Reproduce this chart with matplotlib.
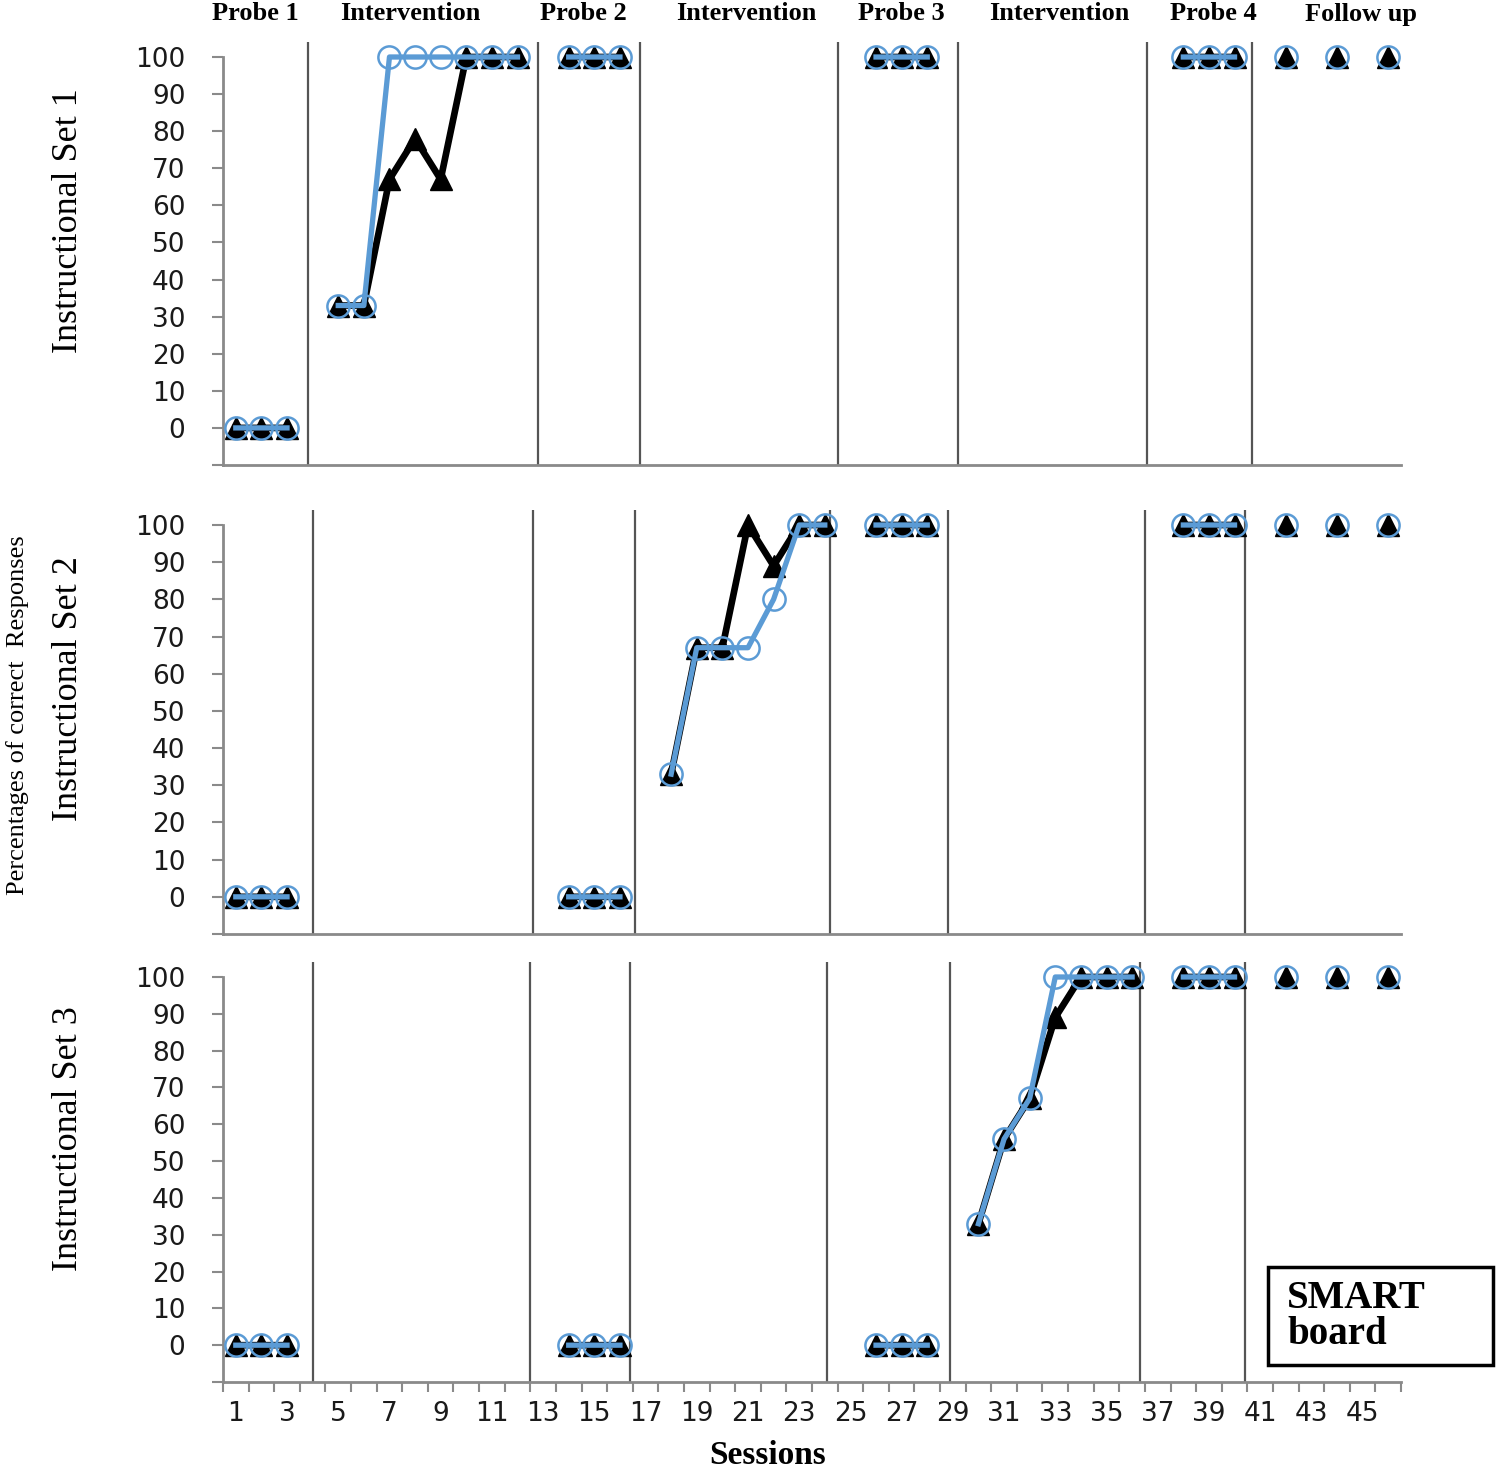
import numpy as np
import matplotlib.pyplot as plt
from matplotlib.patches import Rectangle

N = None
sessions = list(range(1, 47))

# percentages of correct responses, one value per session (None = no session in that panel)
set1_black = [0, 0, 0, N, 33, 33, 67, 78, 67, 100, 100, 100, N, 100, 100, 100] + [N] * 9 + \
             [100, 100, 100] + [N] * 9 + [100, 100, 100, N, 100, N, 100, N, 100]
set1_blue = [0, 0, 0, N, 33, 33, 100, 100, 100, 100, 100, 100, N, 100, 100, 100] + [N] * 9 + \
            [100, 100, 100] + [N] * 9 + [100, 100, 100, N, 100, N, 100, N, 100]
set2_black = [0, 0, 0] + [N] * 10 + [0, 0, 0, N, 33, 67, 67, 100, 89, 100, 100, N, 100, 100, 100] + \
             [N] * 9 + [100, 100, 100, N, 100, N, 100, N, 100]
set2_blue = [0, 0, 0] + [N] * 10 + [0, 0, 0, N, 33, 67, 67, 67, 80, 100, 100, N, 100, 100, 100] + \
            [N] * 9 + [100, 100, 100, N, 100, N, 100, N, 100]
set3_black = [0, 0, 0] + [N] * 10 + [0, 0, 0] + [N] * 9 + [0, 0, 0, N, 33, 56, 67, 89, 100, 100, 100, N] + \
             [100, 100, 100, N, 100, N, 100, N, 100]
set3_blue = [0, 0, 0] + [N] * 10 + [0, 0, 0] + [N] * 9 + [0, 0, 0, N, 33, 56, 67, 100, 100, 100, 100, N] + \
            [100, 100, 100, N, 100, N, 100, N, 100]

panel_labels = ['Instructional Set 1', 'Instructional Set 2', 'Instructional Set 3']
# phase change lines (in session units) as drawn in each panel
phase_lines = [
    [3.8, 12.8, 16.8, 24.5, 29.2, 36.6, 40.7],
    [4.0, 12.6, 16.6, 24.2, 28.8, 36.5, 40.4],
    [4.0, 12.5, 16.4, 24.1, 28.9, 36.3, 40.4],
]
phase_names = ['Probe 1', 'Intervention', 'Probe 2', 'Intervention', 'Probe 3',
               'Intervention', 'Probe 4', 'Follow up']
phase_name_x = [255, 410, 583, 746, 901, 1059, 1213, 1361]

blue = '#5B9BD5'
gray = '#8a8a8a'

fig = plt.figure(figsize=(15, 14.69), dpi=100)

# axes boxes in pixels: (top of 100, bottom of -10)
boxes = [(57, 465), (525, 934), (977, 1382)]
data = [(set1_black, set1_blue), (set2_black, set2_blue), (set3_black, set3_blue)]
left, right = 223, 1401
H = 1469.0

for i, (top, bot) in enumerate(boxes):
    ax = fig.add_axes([left / 1500, 1 - bot / H, (right - left) / 1500, (bot - top) / H])
    blk = np.array(data[i][0], dtype=float)
    blu = np.array(data[i][1], dtype=float)

    ax.plot(sessions, blk, color='black', lw=4.8, marker='^', ms=16,
            mfc='black', mec='black', zorder=3, clip_on=False)
    ax.plot(sessions, blu, color=blue, lw=3.8, marker='o', ms=16,
            mfc='none', mec=blue, mew=1.8, zorder=4, clip_on=False)

    ax.vlines(phase_lines[i], -10, 104, color='#555555', lw=1.6, zorder=1, clip_on=False)

    ax.set_xlim(0.5, 46.5)
    ax.set_ylim(-10, 100)
    ax.set_yticks(np.arange(-10, 101, 10))
    ax.set_yticklabels([''] + [str(v) for v in range(0, 101, 10)])
    ax.tick_params(axis='y', direction='out', length=8, width=1.5, color=gray,
                   pad=19, labelsize=19, labelcolor='#1a1a1a')
    for lab in ax.get_yticklabels():
        lab.set_fontfamily('DejaVu Sans')

    for s in ['top', 'right']:
        ax.spines[s].set_visible(False)
    ax.spines['left'].set_color(gray)
    ax.spines['left'].set_linewidth(2)
    ax.spines['bottom'].set_color(gray)
    ax.spines['bottom'].set_linewidth(2)

    ax.set_ylabel(panel_labels[i], family='Liberation Serif', fontsize=26, color='black')
    ax.yaxis.set_label_coords(-0.117, 0.6)

    if i < 2:
        ax.set_xticks([])
    else:
        ax.set_xticks(range(1, 46, 2))
        ax.set_xticks(np.arange(0.5, 46.6, 1), minor=True)
        ax.tick_params(axis='x', which='major', length=0, pad=14, labelsize=19,
                       labelcolor='#1a1a1a')
        ax.tick_params(axis='x', which='minor', direction='out', length=7, width=1.5, color=gray)

# phase titles
for name, x in zip(phase_names, phase_name_x):
    fig.text(x / 1500, 1 - 14 / H, name, ha='center', va='center',
             family='Liberation Serif', fontweight='bold', fontsize=19)

fig.text(18 / 1500, 1 - 715 / H, 'Percentages of correct  Responses', rotation=90,
         ha='center', va='center', family='Liberation Serif', fontsize=19)
fig.text(768 / 1500, 1 - 1455 / H, 'Sessions', ha='center', va='center',
         family='Liberation Serif', fontweight='bold', fontsize=24)

# SMART board box
fig.patches.append(Rectangle((1268 / 1500, 1 - 1365 / H), 225 / 1500, 98 / H,
                             transform=fig.transFigure, fill=False, ec='black', lw=2.5))
fig.text(1287 / 1500, 1 - 1299 / H, 'SMART', ha='left', va='center',
         family='Liberation Serif', fontweight='bold', fontsize=28)
fig.text(1287 / 1500, 1 - 1334 / H, 'board', ha='left', va='center',
         family='Liberation Serif', fontweight='bold', fontsize=28)

fig.savefig('out.png', dpi=100)
